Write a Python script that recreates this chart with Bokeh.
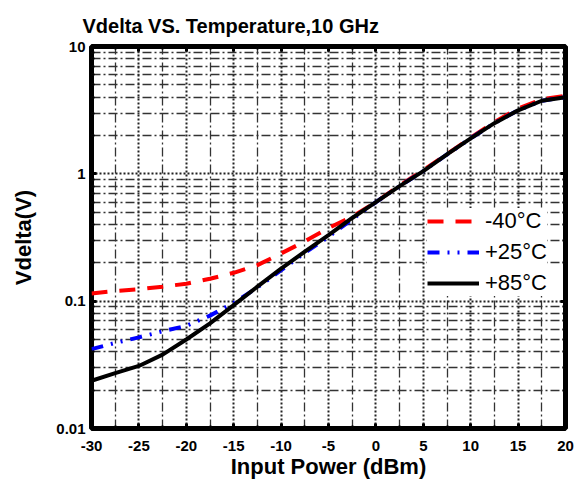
from bokeh.plotting import figure
from bokeh.models import (FixedTicker, CustomJSTickFormatter, Legend, LegendItem,
                          LinearAxis, LogAxis, ColumnDataSource)
from bokeh.embed import file_html
from bokeh.resources import INLINE

# ---- data ----
power = [-30, -27.5, -25, -22.5, -20, -17.5, -15, -12.5, -10, -7.5, -5, -2.5,
         0, 2.5, 5, 7.5, 10, 12.5, 15, 17.5, 20]
v_m40 = [0.115, 0.120, 0.124, 0.130, 0.137, 0.150, 0.167, 0.192, 0.237, 0.295,
         0.375, 0.46, 0.60, 0.81, 1.07, 1.43, 1.92, 2.55, 3.25, 3.85, 4.10]
v_p25 = [0.042, 0.047, 0.052, 0.058, 0.064, 0.077, 0.097, 0.128, 0.175, 0.24,
         0.32, 0.44, 0.60, 0.80, 1.05, 1.42, 1.90, 2.50, 3.15, 3.75, 4.00]
v_p85 = [0.0237, 0.0272, 0.031, 0.038, 0.050, 0.067, 0.093, 0.130, 0.180, 0.245,
         0.33, 0.45, 0.60, 0.80, 1.05, 1.42, 1.90, 2.50, 3.15, 3.75, 4.00]
labels = ["-40°C", "+25°C", "+85°C"]
x_ticks = [-30, -25, -20, -15, -10, -5, 0, 5, 10, 15, 20]
y_ticks = [0.01, 0.1, 1, 10]

FONT = "Liberation Sans"

src = ColumnDataSource(dict(x=power, a=v_m40, b=v_p25, c=v_p85))

p = figure(width=576, height=481, y_axis_type="log",
           x_range=(-30, 20), y_range=(0.01, 10),
           output_backend="svg", toolbar_location=None,
           min_border_left=91, min_border_right=11,
           min_border_top=46, min_border_bottom=51)

p.title.text = "Vdelta VS. Temperature,10 GHz"
p.title.text_font = FONT
p.title.text_font_size = "20px"
p.title.text_font_style = "bold"
p.title.text_color = "black"
p.title.align = "left"
p.title.offset = -9
p.title.standoff = 20

p.outline_line_color = "black"
p.outline_line_width = 5

x_minor = [t + 2.5 for t in x_ticks[:-1]]
y_minor = [m * d for d in [0.01, 0.1, 1] for m in range(2, 10)]
xt = FixedTicker(ticks=x_ticks, minor_ticks=x_minor)
yt = FixedTicker(ticks=y_ticks, minor_ticks=y_minor)
fmt = CustomJSTickFormatter(code="return tick.toString();")

p.xaxis.ticker = xt
p.yaxis.ticker = yt
p.xaxis.formatter = fmt
p.yaxis.formatter = fmt
p.xgrid.ticker = xt
p.ygrid.ticker = yt

for g in (p.xgrid, p.ygrid):
    g.grid_line_color = "#222222"
    g.grid_line_width = 2
    g.grid_line_dash = "2 2"
    g.minor_grid_line_color = "#333333"
    g.minor_grid_line_width = 1.3
    g.minor_grid_line_dash = "9 3 2 3"

for ax in (p.xaxis[0], p.yaxis[0]):
    ax.axis_line_color = None
    ax.major_tick_in = 5
    ax.major_tick_out = 0
    ax.minor_tick_in = 3
    ax.minor_tick_out = 0
    ax.major_tick_line_width = 3
    ax.minor_tick_line_width = 2
    ax.major_label_text_font = FONT
    ax.major_label_text_font_size = "15px"
    ax.major_label_text_font_style = "bold"
    ax.major_label_text_color = "black"
    ax.axis_label_text_font = FONT
    ax.axis_label_text_font_size = "22px"
    ax.axis_label_text_font_style = "bold"
    ax.axis_label_text_color = "black"

p.xaxis.major_label_standoff = 12
p.xaxis.axis_label_standoff = 0
p.yaxis.major_label_standoff = 6
p.yaxis.axis_label_standoff = 17

p.xaxis.axis_label = "Input Power (dBm)"
p.yaxis.axis_label = "Vdelta(V)"

# ticks on top and right (labels hidden)
blank = CustomJSTickFormatter(code="return '';")
top = LinearAxis(ticker=xt, formatter=blank, major_label_standoff=0,
                 axis_line_color=None, major_tick_in=5, major_tick_out=0,
                 minor_tick_in=3, minor_tick_out=0, major_tick_line_width=3,
                 minor_tick_line_width=2)
right = LogAxis(ticker=yt, formatter=blank, major_label_standoff=0,
                axis_line_color=None, major_tick_in=5, major_tick_out=0,
                minor_tick_in=3, minor_tick_out=0, major_tick_line_width=3,
                minor_tick_line_width=2)
p.add_layout(top, "above")
p.add_layout(right, "right")

r1 = p.line("x", "a", source=src, line_color="#ff0000", line_width=4,
            line_dash="16 12")
r2 = p.line("x", "b", source=src, line_color="#0000ff", line_width=4,
            line_dash="12 8 2 8 2 8")
r3 = p.line("x", "c", source=src, line_color="black", line_width=4)

legend = Legend(items=[LegendItem(label=labels[0], renderers=[r1]),
                       LegendItem(label=labels[1], renderers=[r2]),
                       LegendItem(label=labels[2], renderers=[r3])],
                location=(336, 132))
legend.border_line_color = None
legend.background_fill_color = "white"
legend.background_fill_alpha = 1
legend.label_text_font = FONT
legend.label_text_font_size = "22px"
legend.label_text_color = "black"
legend.glyph_width = 52
legend.glyph_height = 22
legend.label_height = 22
legend.label_standoff = 6
legend.spacing = 5
legend.padding = 6
legend.margin = 0
p.add_layout(legend, "center")

open("out.html", "w").write(file_html(p, INLINE))
